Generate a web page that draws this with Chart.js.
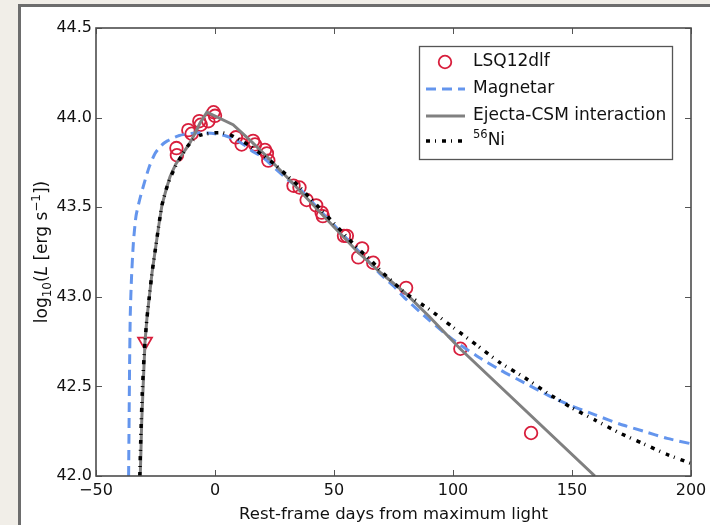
<!DOCTYPE html>
<html><head><meta charset="utf-8">
<script src="https://cdn.jsdelivr.net/npm/chart.js@4.4.1/dist/chart.umd.min.js"></script>
<style>
html,body{margin:0;padding:0;background:#f1eee8;width:710px;height:525px;overflow:hidden;}
#panel{position:absolute;left:18px;top:4px;width:800px;height:700px;border:3px solid #6d6d6d;background:#fff;}
#c{position:absolute;left:0;top:0;}
</style></head><body>
<div id="panel"></div>
<canvas id="c" width="710" height="525"></canvas>
<script>
// ---- data ----
const xTicks = [-50, 0, 50, 100, 150, 200];
const yTicks = [42.0, 42.5, 43.0, 43.5, 44.0, 44.5];

const obsDays = [-16.2, -16.0, -11.2, -9.8, -6.6, -6.0, -2.8, -0.6, 0.0, 8.8, 11.2, 16.0, 16.8, 21.0, 21.8, 22.4, 33.0, 35.5, 38.5, 42.5, 44.8, 45.3, 54.2, 55.4, 60.2, 61.8, 66.5, 80.3, 103.1, 132.8];
const obsLogL = [43.83, 43.79, 43.93, 43.91, 43.98, 43.96, 43.98, 44.03, 44.01, 43.89, 43.85, 43.87, 43.85, 43.82, 43.80, 43.76, 43.62, 43.61, 43.54, 43.51, 43.47, 43.45, 43.34, 43.34, 43.22, 43.27, 43.19, 43.05, 42.71, 42.24];

const limDays = [-29.4];
const limLogL = [42.75];

const magDays = [-36.3, -36.1, -35.9, -35.6, -35.1, -34.3, -33.2, -31.5, -29.4, -27.5, -25.2, -22.5, -20, -15, -10, -5, 0, 4, 8, 12, 16, 20, 25, 30, 35, 40, 45, 50, 55, 60, 65, 70, 75, 80, 90, 100, 110, 120, 130, 140, 150, 160, 170, 180, 190, 200];
const magLogL = [42.0, 42.3, 42.6, 42.9, 43.1, 43.3, 43.45, 43.55, 43.65, 43.73, 43.8, 43.845, 43.87, 43.9, 43.912, 43.915, 43.91, 43.9, 43.88, 43.85, 43.81, 43.78, 43.72, 43.66, 43.61, 43.54, 43.47, 43.4, 43.33, 43.26, 43.19, 43.12, 43.06, 42.99, 42.87, 42.76, 42.67, 42.59, 42.52, 42.45, 42.39, 42.34, 42.29, 42.25, 42.21, 42.18];

const csmDays = [-31.4, -30.8, -30.1, -29.4, -28.6, -27.6, -26.4, -25.0, -23.6, -22.3, -20.5, -18.9, -16.5, -14.0, -12.0, -10.5, -8.5, -6.3, -3.4, 7.6, 15, 22, 31.5, 40, 50, 60, 70, 80, 90, 103, 159.6];
const csmLogL = [42.0, 42.3, 42.53, 42.75, 42.88, 43.0, 43.14, 43.27, 43.4, 43.51, 43.6, 43.67, 43.74, 43.79, 43.83, 43.86, 43.91, 43.97, 44.03, 43.96, 43.87, 43.78, 43.65, 43.53, 43.39, 43.25, 43.13, 43.02, 42.89, 42.71, 42.0];

const niDays = [-31.6, -31.1, -30.6, -30.0, -29.4, -28.6, -27.6, -26.4, -25.0, -23.6, -22.3, -20.5, -18.9, -16.5, -13.9, -11.5, -9.2, -6.5, -3.4, 0, 3.4, 7, 10.5, 15, 20, 25, 30, 35, 40, 45, 50, 55, 60, 65, 70, 75, 80, 90, 100, 110, 120, 130, 140, 150, 160, 170, 180, 190, 200];
const niLogL = [42.0, 42.25, 42.45, 42.62, 42.75, 42.88, 43.0, 43.14, 43.27, 43.4, 43.51, 43.6, 43.66, 43.73, 43.79, 43.84, 43.875, 43.9, 43.91, 43.915, 43.915, 43.9, 43.875, 43.84, 43.79, 43.74, 43.68, 43.62, 43.55, 43.48, 43.41, 43.34, 43.27, 43.21, 43.14, 43.08, 43.02, 42.93, 42.83, 42.73, 42.63, 42.55, 42.46, 42.38, 42.31, 42.24, 42.18, 42.12, 42.07];

const seriesNames = ['LSQ12dlf', 'Magnetar', 'Ejecta-CSM interaction', 'Ni'];
const xTitle = 'Rest-frame days from maximum light';

// ---- styles ----
const RED = '#d81e3c', BLUE = '#6495ed', GRAY = '#808080', BLACK = '#000000';
const FONT = '"DejaVu Sans", sans-serif';
const NI_DASH = [4, 5, 1, 6];
const MAG_DASH = [10, 6];

const pts = (xs, ys) => xs.map((v, i) => ({x: v, y: ys[i]}));

function drawSegs(ctx, segs, x, y) {
  // segs: [text, font, dy]
  let w = 0;
  segs.forEach(s => { ctx.font = s[1]; w += ctx.measureText(s[0]).width; });
  return w;
}
function fillSegs(ctx, segs, x, y) {
  let cx = x;
  segs.forEach(s => { ctx.font = s[1]; ctx.fillText(s[0], cx, y + (s[2] || 0)); cx += ctx.measureText(s[0]).width; });
}

const decor = {
  id: 'decor',
  afterDraw(chart) {
    const {ctx, chartArea: a, scales: {x, y}} = chart;
    ctx.save();
    // inward ticks
    ctx.strokeStyle = '#555'; ctx.lineWidth = 1;
    ctx.beginPath();
    xTicks.forEach(v => {
      const p = Math.round(x.getPixelForValue(v)) + 0.5;
      ctx.moveTo(p, a.bottom); ctx.lineTo(p, a.bottom - 6);
      ctx.moveTo(p, a.top); ctx.lineTo(p, a.top + 6);
    });
    yTicks.forEach(v => {
      const p = Math.round(y.getPixelForValue(v)) + 0.5;
      ctx.moveTo(a.left, p); ctx.lineTo(a.left + 6, p);
      ctx.moveTo(a.right, p); ctx.lineTo(a.right - 6, p);
    });
    ctx.stroke();
    // axes frame
    ctx.strokeStyle = '#4d4d4d'; ctx.lineWidth = 1.6;
    ctx.strokeRect(a.left, a.top, a.right - a.left, a.bottom - a.top);

    // x title
    ctx.fillStyle = '#111';
    ctx.font = '16.5px ' + FONT;
    ctx.textAlign = 'center'; ctx.textBaseline = 'alphabetic';
    ctx.fillText(xTitle, (a.left + a.right) / 2, 519);

    // y title (rotated, mixed styles)
    ctx.save();
    ctx.translate(47, (a.top + a.bottom) / 2);
    ctx.rotate(-Math.PI / 2);
    ctx.textAlign = 'left';
    const F = '17px ' + FONT, S = '12px ' + FONT, I = 'italic 17px ' + FONT;
    const ysegs = [['log', F, 0], ['10', S, 4], ['(', F, 0], ['L', I, 0], [' [erg s', F, 0], ['\u22121', S, -7], ['])', F, 0]];
    const tw = drawSegs(ctx, ysegs);
    fillSegs(ctx, ysegs, -tw / 2, 0);
    ctx.restore();

    // legend
    const L = 419, T = 46, R = 672, B = 159;
    ctx.fillStyle = '#fff';
    ctx.fillRect(L, T, R - L, B - T);
    ctx.strokeStyle = '#555'; ctx.lineWidth = 1.3;
    ctx.strokeRect(L + 0.5, T + 0.5, R - L, B - T);
    const rows = [62, 89, 116, 141];
    const hx0 = 426, hx1 = 465, tx = 473;
    // circle
    ctx.strokeStyle = RED; ctx.lineWidth = 1.8;
    ctx.beginPath(); ctx.arc(445, rows[0], 6.3, 0, Math.PI * 2); ctx.stroke();
    // magnetar
    ctx.lineWidth = 3; ctx.strokeStyle = BLUE; ctx.setLineDash(MAG_DASH);
    ctx.beginPath(); ctx.moveTo(hx0, rows[1]); ctx.lineTo(hx1, rows[1]); ctx.stroke();
    // csm
    ctx.strokeStyle = GRAY; ctx.setLineDash([]);
    ctx.beginPath(); ctx.moveTo(hx0, rows[2]); ctx.lineTo(hx1, rows[2]); ctx.stroke();
    // ni
    ctx.strokeStyle = BLACK; ctx.lineWidth = 3.5; ctx.setLineDash(NI_DASH);
    ctx.beginPath(); ctx.moveTo(hx0, rows[3]); ctx.lineTo(hx1, rows[3]); ctx.stroke();
    ctx.setLineDash([]);
    ctx.fillStyle = '#111'; ctx.textBaseline = 'middle'; ctx.textAlign = 'left';
    ctx.font = '17px ' + FONT;
    ctx.fillText(seriesNames[0], tx, rows[0]);
    ctx.fillText(seriesNames[1], tx, rows[1]);
    ctx.fillText(seriesNames[2], tx, rows[2]);
    fillSegs(ctx, [['56', '11.5px ' + FONT, -6], [seriesNames[3], '17px ' + FONT, 0]], tx, rows[3]);
    ctx.restore();
  }
};

new Chart(document.getElementById('c'), {
  type: 'scatter',
  data: {
    datasets: [
      {label: seriesNames[3], data: pts(niDays, niLogL), showLine: true, borderColor: BLACK, borderWidth: 3.5, borderDash: NI_DASH, pointRadius: 0, order: 1, tension: 0.2},
      {label: seriesNames[2], data: pts(csmDays, csmLogL), showLine: true, borderColor: GRAY, borderWidth: 3, pointRadius: 0, order: 2, tension: 0},
      {label: seriesNames[1], data: pts(magDays, magLogL), showLine: true, borderColor: BLUE, borderWidth: 3, borderDash: MAG_DASH, pointRadius: 0, order: 3, tension: 0.2},
      {label: seriesNames[0], data: pts(obsDays, obsLogL), showLine: false, pointStyle: 'circle', pointRadius: 6.3, borderColor: RED, borderWidth: 1.8, backgroundColor: 'rgba(0,0,0,0)', order: 4},
      {label: 'limit', data: pts(limDays, limLogL), showLine: false, pointStyle: 'triangle', rotation: 180, pointRadius: 8, borderColor: RED, borderWidth: 1.8, backgroundColor: 'rgba(0,0,0,0)', order: 5}
    ]
  },
  options: {
    responsive: false, animation: false, devicePixelRatio: 1,
    layout: {padding: {left: 0, top: 28, right: 19, bottom: 0}},
    plugins: {legend: {display: false}, tooltip: {enabled: false}},
    scales: {
      x: {
        type: 'linear', min: -50, max: 200,
        afterBuildTicks: s => { s.ticks = xTicks.map(v => ({value: v})); },
        afterFit: s => { s.height = 49; s.paddingLeft = 0; s.paddingRight = 0; },
        ticks: {font: {family: FONT, size: 16}, color: '#111', padding: 5, maxRotation: 0,
          callback: v => String(v).replace('-', '\u2212')},
        grid: {display: false, drawTicks: false}, border: {display: false}
      },
      y: {
        type: 'linear', min: 42, max: 44.5,
        afterBuildTicks: s => { s.ticks = yTicks.map(v => ({value: v})); },
        afterFit: s => { s.width = 96; },
        ticks: {font: {family: FONT, size: 16}, color: '#111', padding: 4,
          callback: v => Number(v).toFixed(1)},
        grid: {display: false, drawTicks: false}, border: {display: false}
      }
    }
  },
  plugins: [decor]
});
</script>
</body></html>
